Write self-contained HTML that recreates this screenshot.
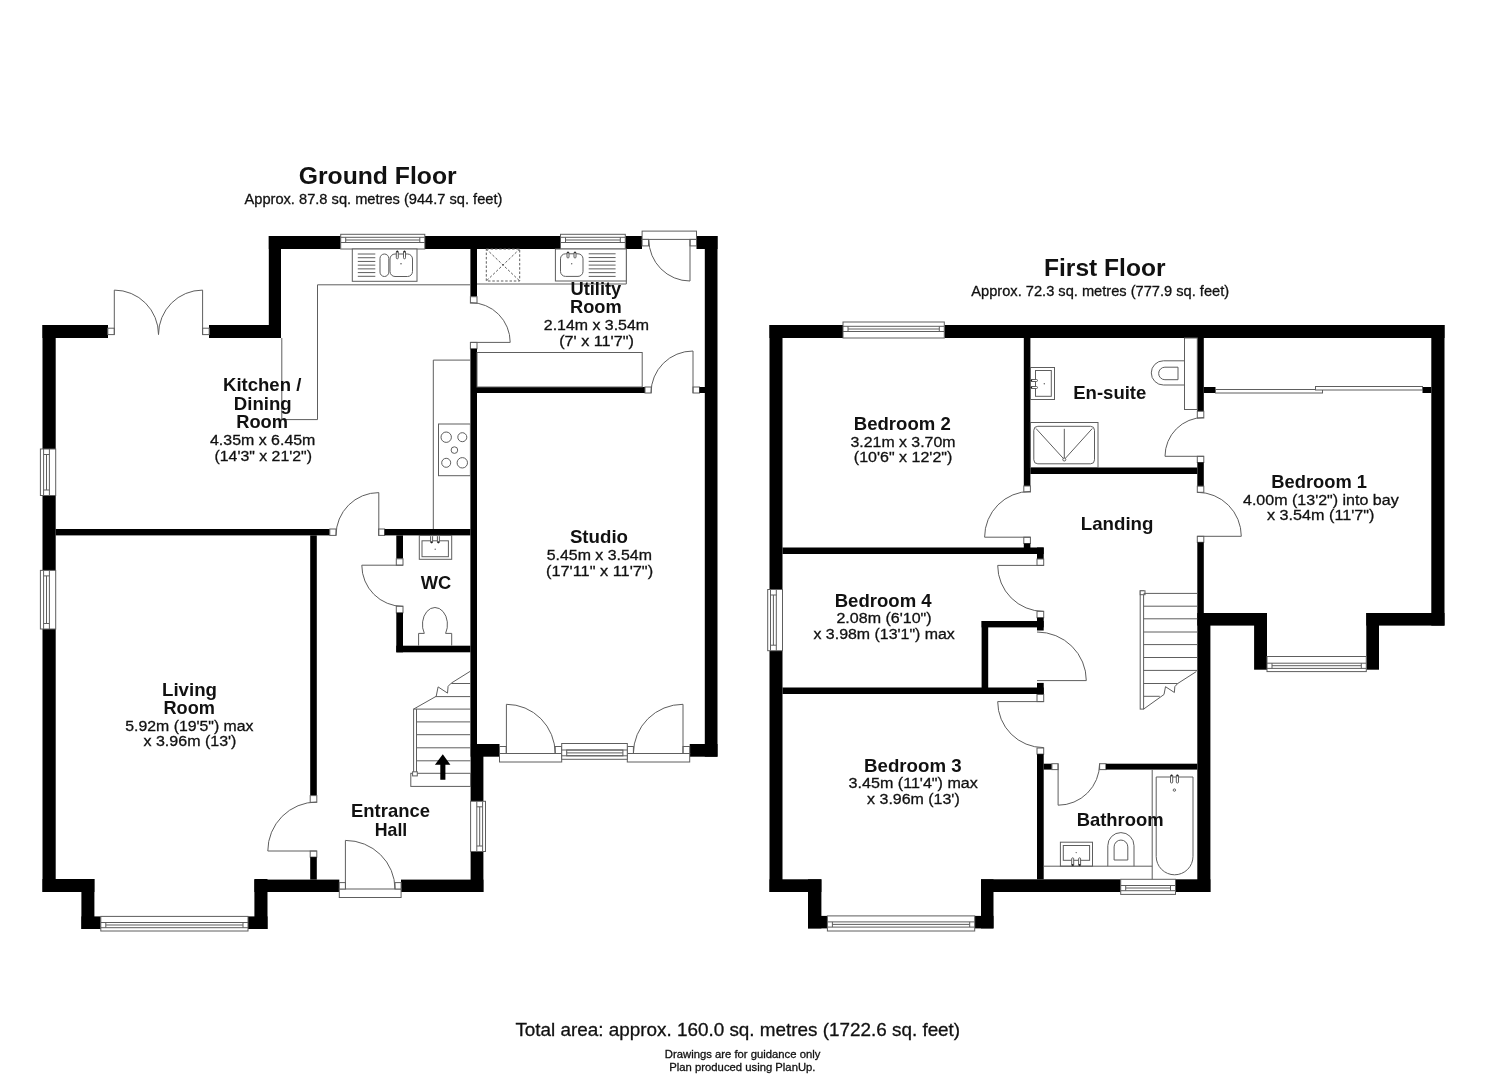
<!DOCTYPE html>
<html><head><meta charset="utf-8"><style>
html,body{margin:0;padding:0;background:#fff;width:1485px;height:1080px;overflow:hidden}
svg{display:block;will-change:transform}
text{font-family:"Liberation Sans",sans-serif;fill:#111}
</style></head><body>
<svg width="1485" height="1080" viewBox="0 0 1485 1080">
<rect width="1485" height="1080" fill="#fff"/>
<rect x="42.5" y="325" width="13.2" height="124" fill="#000"/>
<rect x="42.5" y="495.5" width="13.2" height="74.9" fill="#000"/>
<rect x="42.5" y="629" width="13.2" height="263" fill="#000"/>
<rect x="42.5" y="325" width="65.5" height="13" fill="#000"/>
<rect x="209" y="325" width="72" height="13" fill="#000"/>
<rect x="268.8" y="236" width="12.2" height="102" fill="#000"/>
<rect x="268.8" y="236" width="71.9" height="13" fill="#000"/>
<rect x="424.8" y="236" width="135.7" height="13" fill="#000"/>
<rect x="625.3" y="236" width="16.7" height="13" fill="#000"/>
<rect x="696.5" y="236" width="21" height="13" fill="#000"/>
<rect x="704.8" y="236" width="12.7" height="520.7" fill="#000"/>
<rect x="689.7" y="744" width="27.8" height="12.7" fill="#000"/>
<rect x="470.6" y="744" width="28.9" height="12.7" fill="#000"/>
<rect x="470.6" y="744" width="12.8" height="57.3" fill="#000"/>
<rect x="470.6" y="851.5" width="12.8" height="40.5" fill="#000"/>
<rect x="401" y="879.6" width="82.4" height="12.4" fill="#000"/>
<rect x="254.4" y="879.6" width="84.9" height="12.4" fill="#000"/>
<rect x="254.4" y="879" width="13.1" height="50" fill="#000"/>
<rect x="248" y="916.4" width="19.5" height="12.6" fill="#000"/>
<rect x="81.4" y="916.4" width="19.4" height="12.6" fill="#000"/>
<rect x="81.4" y="879" width="13" height="50" fill="#000"/>
<rect x="42.5" y="879" width="51.9" height="13" fill="#000"/>
<rect x="470.4" y="249" width="6.6" height="47.7" fill="#000"/>
<rect x="470.4" y="296.7" width="6.6" height="6.4" fill="#fff" stroke="#5e5e5e" stroke-width="1.0" />
<rect x="470.4" y="342.4" width="6.6" height="6.4" fill="#fff" stroke="#5e5e5e" stroke-width="1.0" />
<rect x="470.4" y="348.8" width="6.6" height="395.2" fill="#000"/>
<path d="M470.4,342.4 L510.2,342.4 A39.8,39.8 0 0 0 470.4,302.6" fill="none" stroke="#5e5e5e" stroke-width="1.0" />
<rect x="477" y="387" width="168" height="6" fill="#000"/>
<rect x="645" y="387" width="6.2" height="6" fill="#fff" stroke="#5e5e5e" stroke-width="1.0" />
<rect x="693" y="387" width="6.5" height="6" fill="#fff" stroke="#5e5e5e" stroke-width="1.0" />
<rect x="699.5" y="387" width="5.5" height="6" fill="#000"/>
<path d="M693,393 L693,351 A42,42 0 0 0 651,393" fill="none" stroke="#5e5e5e" stroke-width="1.0" />
<rect x="55.7" y="529" width="274.1" height="6.4" fill="#000"/>
<rect x="329.8" y="529" width="6.2" height="6.4" fill="#fff" stroke="#5e5e5e" stroke-width="1.0" />
<rect x="378.6" y="529" width="6" height="6.4" fill="#fff" stroke="#5e5e5e" stroke-width="1.0" />
<rect x="384.6" y="529" width="85.8" height="6.4" fill="#000"/>
<path d="M378.8,535.4 L378.8,492.6 A42.8,42.8 0 0 0 336,535.4" fill="none" stroke="#5e5e5e" stroke-width="1.0" />
<rect x="310.2" y="535.4" width="6.6" height="260.2" fill="#000"/>
<rect x="310.2" y="795.6" width="6.6" height="6.7" fill="#fff" stroke="#5e5e5e" stroke-width="1.0" />
<rect x="310.2" y="851" width="6.6" height="6.1" fill="#fff" stroke="#5e5e5e" stroke-width="1.0" />
<rect x="310.2" y="857.1" width="6.6" height="22.5" fill="#000"/>
<path d="M316.8,851 L267.8,851 A49,49 0 0 1 316.8,802" fill="none" stroke="#5e5e5e" stroke-width="1.0" />
<rect x="396.3" y="535.4" width="6.7" height="23.4" fill="#000"/>
<rect x="396.3" y="558.8" width="6.7" height="6.4" fill="#fff" stroke="#5e5e5e" stroke-width="1.0" />
<rect x="396.3" y="606.2" width="6.7" height="6.6" fill="#fff" stroke="#5e5e5e" stroke-width="1.0" />
<rect x="396.3" y="612.8" width="6.7" height="39.5" fill="#000"/>
<rect x="396.3" y="645.7" width="74.1" height="6.6" fill="#000"/>
<path d="M403,565.2 L361.8,565.2 A41.2,41.2 0 0 0 403,606.4" fill="none" stroke="#5e5e5e" stroke-width="1.0" />
<rect x="107.8" y="328.2" width="6.5" height="6.4" fill="#fff" stroke="#5e5e5e" stroke-width="1.0" />
<rect x="202.6" y="328.2" width="6.6" height="6.4" fill="#fff" stroke="#5e5e5e" stroke-width="1.0" />
<path d="M114.3,334.6 V290.1 A44.2,44.5 0 0 1 158.5,334.6" fill="none" stroke="#5e5e5e" stroke-width="1.0" />
<path d="M202.6,334.6 V290.1 A44.1,44.5 0 0 0 158.5,334.6" fill="none" stroke="#5e5e5e" stroke-width="1.0" />
<rect x="642.1" y="231.1" width="54.4" height="8.3" fill="#fff" stroke="#5e5e5e" stroke-width="1.0" />
<rect x="642.1" y="239.4" width="6.4" height="6.5" fill="#fff" stroke="#5e5e5e" stroke-width="1.0" />
<rect x="690" y="239.4" width="6.5" height="6.5" fill="#fff" stroke="#5e5e5e" stroke-width="1.0" />
<path d="M690,239.4 V281 A41.2,41.6 0 0 1 648.8,239.4" fill="none" stroke="#5e5e5e" stroke-width="1.0" />
<rect x="339.3" y="889" width="61.8" height="8.5" fill="#fff" stroke="#5e5e5e" stroke-width="1.0" />
<rect x="339.3" y="882.6" width="6.2" height="6.4" fill="#fff" stroke="#5e5e5e" stroke-width="1.0" />
<rect x="395" y="882.6" width="6.1" height="6.4" fill="#fff" stroke="#5e5e5e" stroke-width="1.0" />
<path d="M345.4,889 V840.4 A49.6,48.6 0 0 1 395,889" fill="none" stroke="#5e5e5e" stroke-width="1.0" />
<rect x="499.5" y="753.5" width="62.2" height="8.5" fill="#fff" stroke="#5e5e5e" stroke-width="1.0" />
<rect x="499.5" y="746.5" width="6.7" height="7" fill="#fff" stroke="#5e5e5e" stroke-width="1.0" />
<rect x="555.2" y="746.5" width="6.5" height="7" fill="#fff" stroke="#5e5e5e" stroke-width="1.0" />
<path d="M506.4,753.5 V704.3 A48.8,49.2 0 0 1 555.2,753.5" fill="none" stroke="#5e5e5e" stroke-width="1.0" />
<rect x="627.3" y="753.5" width="62.4" height="8.5" fill="#fff" stroke="#5e5e5e" stroke-width="1.0" />
<rect x="627.3" y="746.5" width="6.1" height="7" fill="#fff" stroke="#5e5e5e" stroke-width="1.0" />
<rect x="683" y="746.5" width="6.7" height="7" fill="#fff" stroke="#5e5e5e" stroke-width="1.0" />
<path d="M683,753.5 V704.3 A49.6,49.2 0 0 0 633.4,753.5" fill="none" stroke="#5e5e5e" stroke-width="1.0" />
<rect x="561.7" y="743.5" width="65.6" height="15.8" fill="#fff" stroke="#5e5e5e" stroke-width="1.0" />
<line x1="561.7" y1="750" x2="627.3" y2="750" stroke="#5e5e5e" stroke-width="1.0" />
<line x1="561.7" y1="755.8" x2="627.3" y2="755.8" stroke="#5e5e5e" stroke-width="1.0" />
<rect x="566.7" y="750" width="56.2" height="5.8" fill="none" stroke="#5e5e5e" stroke-width="1.0" />
<line x1="566.7" y1="752.9" x2="622.9" y2="752.9" stroke="#5e5e5e" stroke-width="1.0" />
<rect x="340.7" y="234.3" width="84.1" height="14.7" fill="#fff" stroke="#5e5e5e" stroke-width="1.0" />
<line x1="340.7" y1="237.3" x2="424.8" y2="237.3" stroke="#5e5e5e" stroke-width="1.0" />
<line x1="340.7" y1="242.5" x2="424.8" y2="242.5" stroke="#5e5e5e" stroke-width="1.0" />
<line x1="345.7" y1="240" x2="419.8" y2="240" stroke="#5e5e5e" stroke-width="1.0" />
<line x1="345.7" y1="237.3" x2="345.7" y2="242.5" stroke="#5e5e5e" stroke-width="1.0" />
<line x1="419.8" y1="237.3" x2="419.8" y2="242.5" stroke="#5e5e5e" stroke-width="1.0" />
<rect x="560.5" y="234.3" width="64.8" height="14.7" fill="#fff" stroke="#5e5e5e" stroke-width="1.0" />
<line x1="560.5" y1="237.3" x2="625.3" y2="237.3" stroke="#5e5e5e" stroke-width="1.0" />
<line x1="560.5" y1="242.5" x2="625.3" y2="242.5" stroke="#5e5e5e" stroke-width="1.0" />
<line x1="565.5" y1="240" x2="620.3" y2="240" stroke="#5e5e5e" stroke-width="1.0" />
<line x1="565.5" y1="237.3" x2="565.5" y2="242.5" stroke="#5e5e5e" stroke-width="1.0" />
<line x1="620.3" y1="237.3" x2="620.3" y2="242.5" stroke="#5e5e5e" stroke-width="1.0" />
<rect x="40.4" y="449" width="15.3" height="46.5" fill="#fff" stroke="#5e5e5e" stroke-width="1.0" />
<line x1="43.6" y1="449" x2="43.6" y2="495.5" stroke="#5e5e5e" stroke-width="1.0" />
<line x1="49.4" y1="449" x2="49.4" y2="495.5" stroke="#5e5e5e" stroke-width="1.0" />
<line x1="46.5" y1="454.5" x2="46.5" y2="490" stroke="#5e5e5e" stroke-width="1.0" />
<line x1="43.6" y1="454.5" x2="49.4" y2="454.5" stroke="#5e5e5e" stroke-width="1.0" />
<line x1="43.6" y1="490" x2="49.4" y2="490" stroke="#5e5e5e" stroke-width="1.0" />
<rect x="40.4" y="570.4" width="15.3" height="58.6" fill="#fff" stroke="#5e5e5e" stroke-width="1.0" />
<line x1="43.6" y1="570.4" x2="43.6" y2="629" stroke="#5e5e5e" stroke-width="1.0" />
<line x1="49.4" y1="570.4" x2="49.4" y2="629" stroke="#5e5e5e" stroke-width="1.0" />
<line x1="46.5" y1="575.9" x2="46.5" y2="623.5" stroke="#5e5e5e" stroke-width="1.0" />
<line x1="43.6" y1="575.9" x2="49.4" y2="575.9" stroke="#5e5e5e" stroke-width="1.0" />
<line x1="43.6" y1="623.5" x2="49.4" y2="623.5" stroke="#5e5e5e" stroke-width="1.0" />
<rect x="100.8" y="916.4" width="147.2" height="14.6" fill="#fff" stroke="#5e5e5e" stroke-width="1.0" />
<line x1="100.8" y1="927.7" x2="248" y2="927.7" stroke="#5e5e5e" stroke-width="1.0" />
<line x1="100.8" y1="922.5" x2="248" y2="922.5" stroke="#5e5e5e" stroke-width="1.0" />
<line x1="105.8" y1="925" x2="243" y2="925" stroke="#5e5e5e" stroke-width="1.0" />
<line x1="105.8" y1="927.7" x2="105.8" y2="922.5" stroke="#5e5e5e" stroke-width="1.0" />
<line x1="243" y1="927.7" x2="243" y2="922.5" stroke="#5e5e5e" stroke-width="1.0" />
<rect x="470.6" y="801.3" width="14.9" height="50.2" fill="#fff" stroke="#5e5e5e" stroke-width="1.0" />
<line x1="482.6" y1="801.3" x2="482.6" y2="851.5" stroke="#5e5e5e" stroke-width="1.0" />
<line x1="476.8" y1="801.3" x2="476.8" y2="851.5" stroke="#5e5e5e" stroke-width="1.0" />
<line x1="479.7" y1="806.8" x2="479.7" y2="846" stroke="#5e5e5e" stroke-width="1.0" />
<line x1="482.6" y1="806.8" x2="476.8" y2="806.8" stroke="#5e5e5e" stroke-width="1.0" />
<line x1="482.6" y1="846" x2="476.8" y2="846" stroke="#5e5e5e" stroke-width="1.0" />
<path d="M281.8,338 V419.6 H317.5 V284.8 H470.4" fill="none" stroke="#5e5e5e" stroke-width="1.0" />
<rect x="352.3" y="249" width="64.7" height="32.3" fill="#fff" stroke="#5e5e5e" stroke-width="1.0" />
<line x1="357.8" y1="254" x2="375.3" y2="254" stroke="#5e5e5e" stroke-width="1.0" />
<line x1="357.8" y1="257.72" x2="375.3" y2="257.72" stroke="#5e5e5e" stroke-width="1.0" />
<line x1="357.8" y1="261.43" x2="375.3" y2="261.43" stroke="#5e5e5e" stroke-width="1.0" />
<line x1="357.8" y1="265.15" x2="375.3" y2="265.15" stroke="#5e5e5e" stroke-width="1.0" />
<line x1="357.8" y1="268.87" x2="375.3" y2="268.87" stroke="#5e5e5e" stroke-width="1.0" />
<line x1="357.8" y1="272.58" x2="375.3" y2="272.58" stroke="#5e5e5e" stroke-width="1.0" />
<line x1="357.8" y1="276.3" x2="375.3" y2="276.3" stroke="#5e5e5e" stroke-width="1.0" />
<rect x="380" y="254" width="8.8" height="22.5" rx="4.4" fill="none" stroke="#5e5e5e" stroke-width="1.0"/>
<rect x="390" y="254" width="22.5" height="22.5" rx="5" fill="none" stroke="#5e5e5e" stroke-width="1.0"/>
<rect x="396.3" y="251" width="2" height="7.8" rx="1" fill="#fff" stroke="#5e5e5e" stroke-width="1.0"/>
<rect x="403.5" y="251" width="2" height="7.8" rx="1" fill="#fff" stroke="#5e5e5e" stroke-width="1.0"/>
<circle cx="397.3" cy="251.6" r="0.9" fill="#222" stroke="#5e5e5e" stroke-width="0"/>
<circle cx="404.5" cy="251.6" r="0.9" fill="#222" stroke="#5e5e5e" stroke-width="0"/>
<circle cx="401" cy="263.8" r="0.8" fill="#5e5e5e" stroke="#5e5e5e" stroke-width="0"/>
<path d="M470.4,360.1 H433.3 V529" fill="none" stroke="#5e5e5e" stroke-width="1.0" />
<rect x="438.5" y="424" width="31.9" height="51.7" fill="none" stroke="#5e5e5e" stroke-width="1.0" />
<circle cx="446.2" cy="437.2" r="5.2" fill="none" stroke="#5e5e5e" stroke-width="1.0"/>
<circle cx="462.3" cy="437.2" r="4.5" fill="none" stroke="#5e5e5e" stroke-width="1.0"/>
<circle cx="454.4" cy="450.1" r="3.3" fill="none" stroke="#5e5e5e" stroke-width="1.0"/>
<circle cx="446.2" cy="462.8" r="4.5" fill="none" stroke="#5e5e5e" stroke-width="1.0"/>
<circle cx="462.3" cy="462.8" r="5.2" fill="none" stroke="#5e5e5e" stroke-width="1.0"/>
<path d="M477,284 H626.3 V249" fill="none" stroke="#5e5e5e" stroke-width="1.0" />
<rect x="486.3" y="249" width="33.4" height="32" fill="none" stroke="#5e5e5e" stroke-width="1.0" stroke-dasharray="2.5,1.8"/>
<path d="M486.3,249 L519.7,281 M519.7,249 L486.3,281" fill="none" stroke="#5e5e5e" stroke-width="1.0" stroke-dasharray="2.5,1.8"/>
<rect x="555.4" y="249" width="70.9" height="32" fill="#fff" stroke="#5e5e5e" stroke-width="1.0" />
<rect x="560.5" y="253.8" width="22.5" height="22.6" rx="5" fill="none" stroke="#5e5e5e" stroke-width="1.0"/>
<rect x="567" y="252" width="2" height="6" rx="1" fill="#fff" stroke="#5e5e5e" stroke-width="1.0"/>
<rect x="574" y="252" width="2" height="6" rx="1" fill="#fff" stroke="#5e5e5e" stroke-width="1.0"/>
<circle cx="568" cy="252.6" r="0.9" fill="#222" stroke="#5e5e5e" stroke-width="0"/>
<circle cx="575" cy="252.6" r="0.9" fill="#222" stroke="#5e5e5e" stroke-width="0"/>
<circle cx="571.7" cy="263.7" r="0.7" fill="#5e5e5e" stroke="#5e5e5e" stroke-width="0"/>
<line x1="588.7" y1="253.8" x2="615.6" y2="253.8" stroke="#5e5e5e" stroke-width="1.0" />
<line x1="588.7" y1="257.57" x2="615.6" y2="257.57" stroke="#5e5e5e" stroke-width="1.0" />
<line x1="588.7" y1="261.33" x2="615.6" y2="261.33" stroke="#5e5e5e" stroke-width="1.0" />
<line x1="588.7" y1="265.1" x2="615.6" y2="265.1" stroke="#5e5e5e" stroke-width="1.0" />
<line x1="588.7" y1="268.87" x2="615.6" y2="268.87" stroke="#5e5e5e" stroke-width="1.0" />
<line x1="588.7" y1="272.63" x2="615.6" y2="272.63" stroke="#5e5e5e" stroke-width="1.0" />
<line x1="588.7" y1="276.4" x2="615.6" y2="276.4" stroke="#5e5e5e" stroke-width="1.0" />
<rect x="477" y="352.5" width="165.2" height="34.5" fill="none" stroke="#5e5e5e" stroke-width="1.0" />
<rect x="419.3" y="535.4" width="32.4" height="23.9" fill="none" stroke="#5e5e5e" stroke-width="1.0" />
<rect x="422" y="540.8" width="26.4" height="15.9" fill="none" stroke="#5e5e5e" stroke-width="1.0" />
<rect x="430.6" y="535.5" width="2" height="7.5" rx="1" fill="#fff" stroke="#5e5e5e" stroke-width="1.0"/>
<rect x="437.4" y="535.5" width="2" height="7.5" rx="1" fill="#fff" stroke="#5e5e5e" stroke-width="1.0"/>
<circle cx="431.6" cy="542.2" r="0.9" fill="#222" stroke="#5e5e5e" stroke-width="0"/>
<circle cx="438.4" cy="542.2" r="0.9" fill="#222" stroke="#5e5e5e" stroke-width="0"/>
<circle cx="435.2" cy="549.3" r="0.7" fill="#5e5e5e" stroke="#5e5e5e" stroke-width="0"/>
<path d="M418.6,645.7 V633.4 H424.3 A12.5,17 0 1 1 445.6,633.4 H451.7 V645.7" fill="none" stroke="#5e5e5e" stroke-width="1.0" />
<rect x="413.6" y="709.1" width="2.9" height="64.2" fill="none" stroke="#5e5e5e" stroke-width="1.0" />
<rect x="410.8" y="773.3" width="59.8" height="13.1" fill="none" stroke="#5e5e5e" stroke-width="1.0" />
<rect x="412.6" y="771.8" width="4.7" height="4.1" fill="#fff" stroke="#5e5e5e" stroke-width="1.0" />
<line x1="416.5" y1="709.1" x2="470.6" y2="709.1" stroke="#5e5e5e" stroke-width="1.0" />
<line x1="416.5" y1="721.9" x2="470.6" y2="721.9" stroke="#5e5e5e" stroke-width="1.0" />
<line x1="416.5" y1="734.7" x2="470.6" y2="734.7" stroke="#5e5e5e" stroke-width="1.0" />
<line x1="416.5" y1="747.8" x2="470.6" y2="747.8" stroke="#5e5e5e" stroke-width="1.0" />
<line x1="416.5" y1="760.8" x2="470.6" y2="760.8" stroke="#5e5e5e" stroke-width="1.0" />
<line x1="435.6" y1="696.6" x2="470.6" y2="696.6" stroke="#5e5e5e" stroke-width="1.0" />
<line x1="451.3" y1="683.5" x2="470.6" y2="683.5" stroke="#5e5e5e" stroke-width="1.0" />
<path d="M413.6,709.1 L436.2,696.3 L438.1,686.9 L447.5,693.1 L448.1,686.3 L451.3,683.1 L470.4,671.2" fill="none" stroke="#5e5e5e" stroke-width="1.0" />
<path d="M442.8,754.3 L434.9,764.8 L440.3,764.8 L440.3,779.8 L445.4,779.8 L445.4,764.8 L450.4,764.8 Z" fill="#000" stroke="#5e5e5e" stroke-width="0" />
<rect x="769.5" y="325" width="13" height="264.5" fill="#000"/>
<rect x="769.5" y="650.7" width="13" height="241.3" fill="#000"/>
<rect x="769.5" y="325" width="73.5" height="13" fill="#000"/>
<rect x="944.3" y="325" width="500.2" height="13" fill="#000"/>
<rect x="1431.3" y="325" width="13.2" height="300.6" fill="#000"/>
<rect x="1366.3" y="613" width="78.2" height="12.6" fill="#000"/>
<rect x="1366.3" y="613" width="12.7" height="56.7" fill="#000"/>
<rect x="1197.3" y="613" width="69.7" height="12.6" fill="#000"/>
<rect x="1254.1" y="613" width="12.9" height="56.7" fill="#000"/>
<rect x="1197.3" y="613" width="13.1" height="279" fill="#000"/>
<rect x="981" y="879.3" width="139.7" height="12.7" fill="#000"/>
<rect x="1175.5" y="879.3" width="34.9" height="12.7" fill="#000"/>
<rect x="981" y="879.3" width="12.5" height="49.1" fill="#000"/>
<rect x="974.7" y="915.9" width="18.8" height="12.5" fill="#000"/>
<rect x="808" y="915.9" width="19.4" height="12.5" fill="#000"/>
<rect x="808" y="879.3" width="13.4" height="49.1" fill="#000"/>
<rect x="769.5" y="879.3" width="51.9" height="12.7" fill="#000"/>
<rect x="843" y="322" width="101.3" height="16" fill="#fff" stroke="#5e5e5e" stroke-width="1.0" />
<line x1="843" y1="326.3" x2="944.3" y2="326.3" stroke="#5e5e5e" stroke-width="1.0" />
<line x1="843" y1="331.5" x2="944.3" y2="331.5" stroke="#5e5e5e" stroke-width="1.0" />
<line x1="848" y1="329" x2="939.3" y2="329" stroke="#5e5e5e" stroke-width="1.0" />
<line x1="848" y1="326.3" x2="848" y2="331.5" stroke="#5e5e5e" stroke-width="1.0" />
<line x1="939.3" y1="326.3" x2="939.3" y2="331.5" stroke="#5e5e5e" stroke-width="1.0" />
<rect x="767.7" y="589.5" width="14.8" height="61.2" fill="#fff" stroke="#5e5e5e" stroke-width="1.0" />
<line x1="770.5" y1="589.5" x2="770.5" y2="650.7" stroke="#5e5e5e" stroke-width="1.0" />
<line x1="776.3" y1="589.5" x2="776.3" y2="650.7" stroke="#5e5e5e" stroke-width="1.0" />
<line x1="773.4" y1="595" x2="773.4" y2="645.2" stroke="#5e5e5e" stroke-width="1.0" />
<line x1="770.5" y1="595" x2="776.3" y2="595" stroke="#5e5e5e" stroke-width="1.0" />
<line x1="770.5" y1="645.2" x2="776.3" y2="645.2" stroke="#5e5e5e" stroke-width="1.0" />
<rect x="827.4" y="915.9" width="147.3" height="15.1" fill="#fff" stroke="#5e5e5e" stroke-width="1.0" />
<line x1="827.4" y1="927.1" x2="974.7" y2="927.1" stroke="#5e5e5e" stroke-width="1.0" />
<line x1="827.4" y1="921.9" x2="974.7" y2="921.9" stroke="#5e5e5e" stroke-width="1.0" />
<line x1="832.4" y1="924.4" x2="969.7" y2="924.4" stroke="#5e5e5e" stroke-width="1.0" />
<line x1="832.4" y1="927.1" x2="832.4" y2="921.9" stroke="#5e5e5e" stroke-width="1.0" />
<line x1="969.7" y1="927.1" x2="969.7" y2="921.9" stroke="#5e5e5e" stroke-width="1.0" />
<rect x="1267" y="656.5" width="99.3" height="15.1" fill="#fff" stroke="#5e5e5e" stroke-width="1.0" />
<line x1="1267" y1="668.4" x2="1366.3" y2="668.4" stroke="#5e5e5e" stroke-width="1.0" />
<line x1="1267" y1="663.2" x2="1366.3" y2="663.2" stroke="#5e5e5e" stroke-width="1.0" />
<line x1="1272" y1="665.7" x2="1361.3" y2="665.7" stroke="#5e5e5e" stroke-width="1.0" />
<line x1="1272" y1="668.4" x2="1272" y2="663.2" stroke="#5e5e5e" stroke-width="1.0" />
<line x1="1361.3" y1="668.4" x2="1361.3" y2="663.2" stroke="#5e5e5e" stroke-width="1.0" />
<rect x="1120.7" y="879.3" width="54.8" height="15.1" fill="#fff" stroke="#5e5e5e" stroke-width="1.0" />
<line x1="1120.7" y1="890.7" x2="1175.5" y2="890.7" stroke="#5e5e5e" stroke-width="1.0" />
<line x1="1120.7" y1="885.5" x2="1175.5" y2="885.5" stroke="#5e5e5e" stroke-width="1.0" />
<line x1="1125.7" y1="888" x2="1170.5" y2="888" stroke="#5e5e5e" stroke-width="1.0" />
<line x1="1125.7" y1="890.7" x2="1125.7" y2="885.5" stroke="#5e5e5e" stroke-width="1.0" />
<line x1="1170.5" y1="890.7" x2="1170.5" y2="885.5" stroke="#5e5e5e" stroke-width="1.0" />
<rect x="1023.8" y="338" width="6.6" height="148" fill="#000"/>
<rect x="1023.8" y="486" width="6.6" height="6" fill="#fff" stroke="#5e5e5e" stroke-width="1.0" />
<rect x="1023.8" y="537.2" width="6.6" height="6.3" fill="#fff" stroke="#5e5e5e" stroke-width="1.0" />
<rect x="1023.8" y="543.5" width="6.6" height="10.2" fill="#000"/>
<path d="M1030.4,537.2 L984.6,537.2 A45.8,45.8 0 0 1 1030.4,491.4" fill="none" stroke="#5e5e5e" stroke-width="1.0" />
<rect x="1030.4" y="467.5" width="166.9" height="6.5" fill="#000"/>
<rect x="1197.3" y="338" width="6.5" height="73.3" fill="#000"/>
<rect x="1197.3" y="411.3" width="6.5" height="6.7" fill="#fff" stroke="#5e5e5e" stroke-width="1.0" />
<rect x="1197.3" y="456.3" width="6.5" height="6.2" fill="#fff" stroke="#5e5e5e" stroke-width="1.0" />
<rect x="1197.3" y="462.5" width="6.5" height="23.7" fill="#000"/>
<path d="M1203.8,456.3 L1165,456.3 A38.8,38.8 0 0 1 1203.8,417.5" fill="none" stroke="#5e5e5e" stroke-width="1.0" />
<rect x="1197.3" y="486.2" width="6.5" height="6.1" fill="#fff" stroke="#5e5e5e" stroke-width="1.0" />
<rect x="1197.3" y="536.3" width="6.5" height="6" fill="#fff" stroke="#5e5e5e" stroke-width="1.0" />
<rect x="1197.3" y="542.3" width="6.5" height="70.7" fill="#000"/>
<path d="M1197.3,536.3 L1241.3,536.3 A44,44 0 0 0 1197.3,492.3" fill="none" stroke="#5e5e5e" stroke-width="1.0" />
<rect x="782.5" y="547.5" width="261.2" height="6.5" fill="#000"/>
<rect x="1037" y="547.5" width="6.7" height="11.5" fill="#000"/>
<rect x="1037" y="559" width="6.7" height="6.4" fill="#fff" stroke="#5e5e5e" stroke-width="1.0" />
<rect x="1037" y="611.3" width="6.7" height="6.4" fill="#fff" stroke="#5e5e5e" stroke-width="1.0" />
<rect x="1037" y="617.7" width="6.7" height="12.8" fill="#000"/>
<path d="M1043.7,565.4 L997.7,565.4 A46,46 0 0 0 1043.7,611.4" fill="none" stroke="#5e5e5e" stroke-width="1.0" />
<rect x="981.6" y="621" width="62.1" height="6.4" fill="#000"/>
<rect x="981.6" y="621" width="6.6" height="73" fill="#000"/>
<path d="M1037,680.6 H1086.3 A49.3,48.6 0 0 0 1037,632" fill="none" stroke="#5e5e5e" stroke-width="1.0" />
<rect x="782.5" y="687.5" width="261.2" height="6.5" fill="#000"/>
<rect x="1037" y="682.9" width="6.7" height="11.6" fill="#000"/>
<rect x="1037" y="694.5" width="6.7" height="7.1" fill="#fff" stroke="#5e5e5e" stroke-width="1.0" />
<rect x="1037" y="748" width="6.7" height="6.1" fill="#fff" stroke="#5e5e5e" stroke-width="1.0" />
<rect x="1037" y="754.1" width="6.7" height="125.2" fill="#000"/>
<path d="M1043.7,701.6 L997.7,701.6 A46,46 0 0 0 1043.7,747.6" fill="none" stroke="#5e5e5e" stroke-width="1.0" />
<rect x="1043.7" y="763.7" width="8.2" height="5.9" fill="#000"/>
<rect x="1051.9" y="763.7" width="6.2" height="5.9" fill="#fff" stroke="#5e5e5e" stroke-width="1.0" />
<rect x="1099.6" y="763.7" width="6.3" height="5.9" fill="#fff" stroke="#5e5e5e" stroke-width="1.0" />
<rect x="1105.9" y="763.7" width="91.4" height="5.9" fill="#000"/>
<path d="M1058.1,763.7 L1058.1,805.2 A41.5,41.5 0 0 0 1099.6,763.7" fill="none" stroke="#5e5e5e" stroke-width="1.0" />
<rect x="1203.8" y="387" width="11.7" height="6" fill="#000"/>
<rect x="1422.5" y="387" width="8.8" height="6" fill="#000"/>
<rect x="1215.5" y="389.5" width="107" height="3.5" fill="#fff" stroke="#5e5e5e" stroke-width="1.0" />
<rect x="1315.5" y="386.5" width="107" height="3.5" fill="#fff" stroke="#5e5e5e" stroke-width="1.0" />
<rect x="1030.4" y="367.5" width="24.1" height="32" fill="none" stroke="#5e5e5e" stroke-width="1.0" />
<rect x="1035.5" y="370.5" width="15.8" height="25.8" fill="none" stroke="#5e5e5e" stroke-width="1.0" />
<rect x="1030.5" y="379.5" width="7" height="2" rx="1" fill="#fff" stroke="#5e5e5e" stroke-width="1.0"/>
<rect x="1030.5" y="386.5" width="7" height="2" rx="1" fill="#fff" stroke="#5e5e5e" stroke-width="1.0"/>
<circle cx="1031.3" cy="380.5" r="0.9" fill="#222" stroke="#5e5e5e" stroke-width="0"/>
<circle cx="1031.3" cy="387.5" r="0.9" fill="#222" stroke="#5e5e5e" stroke-width="0"/>
<circle cx="1044.3" cy="383.8" r="0.7" fill="#5e5e5e" stroke="#5e5e5e" stroke-width="0"/>
<rect x="1030.4" y="422.5" width="67.6" height="45" fill="none" stroke="#5e5e5e" stroke-width="1.0" />
<rect x="1033.8" y="426.3" width="60.7" height="37.5" rx="4" fill="none" stroke="#5e5e5e" stroke-width="1.0"/>
<path d="M1036,428.5 L1064.3,459.5 M1092.3,428.5 L1064.3,459.5 M1064.3,428.8 V459.5" fill="none" stroke="#5e5e5e" stroke-width="1.0" />
<circle cx="1064.3" cy="459.5" r="1.5" fill="#fff" stroke="#5e5e5e" stroke-width="1.0"/>
<rect x="1184.5" y="338" width="12.8" height="71.5" fill="none" stroke="#5e5e5e" stroke-width="1.0" />
<path d="M1184.5,360.8 H1163.4 A12.1,12.1 0 0 0 1163.4,385 H1184.5" fill="none" stroke="#5e5e5e" stroke-width="1.0" />
<path d="M1178,367.2 H1164.9 A6.25,6.25 0 0 0 1164.9,379.7 H1178 Z" fill="none" stroke="#5e5e5e" stroke-width="1.0" />
<path d="M1043.7,866.2 H1152.2 M1152.2,769.6 V879.3" fill="none" stroke="#5e5e5e" stroke-width="1.0" />
<path d="M1156.2,777 H1193 V856.4 A18.4,18.4 0 0 1 1156.2,856.4 Z" fill="none" stroke="#5e5e5e" stroke-width="1.0" />
<rect x="1170.5" y="774.8" width="2.2" height="8.2" rx="1" fill="#fff" stroke="#5e5e5e" stroke-width="1.0"/>
<rect x="1176.3" y="774.8" width="2.2" height="8.2" rx="1" fill="#fff" stroke="#5e5e5e" stroke-width="1.0"/>
<circle cx="1171.6" cy="775.6" r="0.9" fill="#222" stroke="#5e5e5e" stroke-width="0"/>
<circle cx="1177.4" cy="775.6" r="0.9" fill="#222" stroke="#5e5e5e" stroke-width="0"/>
<circle cx="1174.4" cy="790.1" r="1.2" fill="none" stroke="#5e5e5e" stroke-width="1.0"/>
<rect x="1060.4" y="842.2" width="32.1" height="24" fill="none" stroke="#5e5e5e" stroke-width="1.0" />
<rect x="1063.3" y="845.5" width="26.3" height="14.8" fill="none" stroke="#5e5e5e" stroke-width="1.0" />
<rect x="1071.7" y="857.8" width="2" height="8.2" rx="1" fill="#fff" stroke="#5e5e5e" stroke-width="1.0"/>
<rect x="1078.6" y="857.8" width="2" height="8.2" rx="1" fill="#fff" stroke="#5e5e5e" stroke-width="1.0"/>
<circle cx="1072.7" cy="865" r="0.9" fill="#222" stroke="#5e5e5e" stroke-width="0"/>
<circle cx="1079.6" cy="865" r="0.9" fill="#222" stroke="#5e5e5e" stroke-width="0"/>
<circle cx="1076.2" cy="852.6" r="0.7" fill="#5e5e5e" stroke="#5e5e5e" stroke-width="0"/>
<path d="M1107.8,866.2 V845.7 A13.1,13.1 0 0 1 1134,845.7 V866.2" fill="none" stroke="#5e5e5e" stroke-width="1.0" />
<path d="M1114.1,860 V846.9 A6.85,6.85 0 0 1 1127.8,846.9 V860 Z" fill="none" stroke="#5e5e5e" stroke-width="1.0" />
<rect x="1140.2" y="590.8" width="3.4" height="118.3" fill="none" stroke="#5e5e5e" stroke-width="1.0" />
<rect x="1140.2" y="590.8" width="4.8" height="3.9" fill="#fff" stroke="#5e5e5e" stroke-width="1.0" />
<line x1="1143.6" y1="593.4" x2="1197.3" y2="593.4" stroke="#5e5e5e" stroke-width="1.0" />
<line x1="1143.6" y1="606.2" x2="1197.3" y2="606.2" stroke="#5e5e5e" stroke-width="1.0" />
<line x1="1143.6" y1="618.8" x2="1197.3" y2="618.8" stroke="#5e5e5e" stroke-width="1.0" />
<line x1="1143.6" y1="632" x2="1197.3" y2="632" stroke="#5e5e5e" stroke-width="1.0" />
<line x1="1143.6" y1="644.6" x2="1197.3" y2="644.6" stroke="#5e5e5e" stroke-width="1.0" />
<line x1="1143.6" y1="657.5" x2="1197.3" y2="657.5" stroke="#5e5e5e" stroke-width="1.0" />
<line x1="1143.6" y1="670.4" x2="1197.3" y2="670.4" stroke="#5e5e5e" stroke-width="1.0" />
<line x1="1143.6" y1="683.5" x2="1177.7" y2="683.5" stroke="#5e5e5e" stroke-width="1.0" />
<line x1="1143.6" y1="696.3" x2="1159.8" y2="696.3" stroke="#5e5e5e" stroke-width="1.0" />
<path d="M1143.6,709.1 L1164,694.5 L1165.5,686.7 L1174.4,692.5 L1174.8,686.7 L1177.7,683.5 L1196.3,671.6" fill="none" stroke="#5e5e5e" stroke-width="1.0" />
<text transform="translate(298.7,183.9) scale(1.0054,1)" font-size="24.6" font-weight="700">Ground Floor</text>
<text transform="translate(244.5,203.5) scale(1.0037,1)" font-size="14.6" font-weight="400" stroke="#111" stroke-width="0.3">Approx. 87.8 sq. metres (944.7 sq. feet)</text>
<text transform="translate(1044,276) scale(0.9990,1)" font-size="24.6" font-weight="700">First Floor</text>
<text transform="translate(971.3,296) scale(1.0033,1)" font-size="14.6" font-weight="400" stroke="#111" stroke-width="0.3">Approx. 72.3 sq. metres (777.9 sq. feet)</text>
<text transform="translate(223,390.8) scale(1.0077,1)" font-size="18.4" font-weight="700">Kitchen /</text>
<text transform="translate(233.8,409.8) scale(1.0118,1)" font-size="18.4" font-weight="700">Dining</text>
<text transform="translate(236.3,428) scale(0.9918,1)" font-size="18.4" font-weight="700">Room</text>
<text transform="translate(210,444.8) scale(1.0494,1)" font-size="15.2" font-weight="400" stroke="#111" stroke-width="0.3">4.35m x 6.45m</text>
<text transform="translate(214.5,460.5) scale(1.0430,1)" font-size="15.2" font-weight="400" stroke="#111" stroke-width="0.3">(14'3&quot; x 21'2&quot;)</text>
<text transform="translate(570.4,295.2) scale(0.9958,1)" font-size="18.4" font-weight="700">Utility</text>
<text transform="translate(570,313.3) scale(0.9918,1)" font-size="18.4" font-weight="700">Room</text>
<text transform="translate(543.8,330.2) scale(1.0474,1)" font-size="15.2" font-weight="400" stroke="#111" stroke-width="0.3">2.14m x 3.54m</text>
<text transform="translate(559.2,346) scale(1.0663,1)" font-size="15.2" font-weight="400" stroke="#111" stroke-width="0.3">(7' x 11'7&quot;)</text>
<text transform="translate(569.9,543.4) scale(1.0153,1)" font-size="18.4" font-weight="700">Studio</text>
<text transform="translate(546.7,560.1) scale(1.0474,1)" font-size="15.2" font-weight="400" stroke="#111" stroke-width="0.3">5.45m x 3.54m</text>
<text transform="translate(546,575.6) scale(1.0754,1)" font-size="15.2" font-weight="400" stroke="#111" stroke-width="0.3">(17'11&quot; x 11'7&quot;)</text>
<text transform="translate(420.7,589.4) scale(0.9950,1)" font-size="18.4" font-weight="700">WC</text>
<text transform="translate(162,696.4) scale(1.0153,1)" font-size="18.4" font-weight="700">Living</text>
<text transform="translate(163.5,713.6) scale(0.9880,1)" font-size="18.4" font-weight="700">Room</text>
<text transform="translate(125.3,730.8) scale(1.0414,1)" font-size="15.2" font-weight="400" stroke="#111" stroke-width="0.3">5.92m (19'5&quot;) max</text>
<text transform="translate(143.5,746.1) scale(1.0542,1)" font-size="15.2" font-weight="400" stroke="#111" stroke-width="0.3">x 3.96m (13')</text>
<text transform="translate(351,816.7) scale(1.0047,1)" font-size="18.4" font-weight="700">Entrance</text>
<text transform="translate(374.8,836) scale(0.9631,1)" font-size="18.4" font-weight="700">Hall</text>
<text transform="translate(853.8,430) scale(1.0093,1)" font-size="18.4" font-weight="700">Bedroom 2</text>
<text transform="translate(850.5,446.8) scale(1.0444,1)" font-size="15.2" font-weight="400" stroke="#111" stroke-width="0.3">3.21m x 3.70m</text>
<text transform="translate(853.8,461.8) scale(1.0558,1)" font-size="15.2" font-weight="400" stroke="#111" stroke-width="0.3">(10'6&quot; x 12'2&quot;)</text>
<text transform="translate(1073.2,398.5) scale(1.0084,1)" font-size="18.4" font-weight="700">En-suite</text>
<text transform="translate(1271.3,488) scale(0.9958,1)" font-size="18.4" font-weight="700">Bedroom 1</text>
<text transform="translate(1243,504.8) scale(1.0547,1)" font-size="15.2" font-weight="400" stroke="#111" stroke-width="0.3">4.00m (13'2&quot;) into bay</text>
<text transform="translate(1267,520) scale(1.0650,1)" font-size="15.2" font-weight="400" stroke="#111" stroke-width="0.3">x 3.54m (11'7&quot;)</text>
<text transform="translate(1080.8,529.5) scale(1.0162,1)" font-size="18.4" font-weight="700">Landing</text>
<text transform="translate(834.7,606.7) scale(1.0093,1)" font-size="18.4" font-weight="700">Bedroom 4</text>
<text transform="translate(836.4,622.9) scale(1.0559,1)" font-size="15.2" font-weight="400" stroke="#111" stroke-width="0.3">2.08m (6'10&quot;)</text>
<text transform="translate(813.5,638.5) scale(1.0481,1)" font-size="15.2" font-weight="400" stroke="#111" stroke-width="0.3">x 3.98m (13'1&quot;) max</text>
<text transform="translate(864,771.5) scale(1.0166,1)" font-size="18.4" font-weight="700">Bedroom 3</text>
<text transform="translate(848.6,788.3) scale(1.0593,1)" font-size="15.2" font-weight="400" stroke="#111" stroke-width="0.3">3.45m (11'4&quot;) max</text>
<text transform="translate(867.1,804) scale(1.0508,1)" font-size="15.2" font-weight="400" stroke="#111" stroke-width="0.3">x 3.96m (13')</text>
<text transform="translate(1076.7,825.6) scale(1.0002,1)" font-size="18.4" font-weight="700">Bathroom</text>
<text transform="translate(515.4,1036.2) scale(1.0322,1)" font-size="18.3" font-weight="400" stroke="#111" stroke-width="0.3">Total area: approx. 160.0 sq. metres (1722.6 sq. feet)</text>
<text transform="translate(664.8,1058) scale(1.0176,1)" font-size="11.1" font-weight="400" stroke="#111" stroke-width="0.3">Drawings are for guidance only</text>
<text transform="translate(669.3,1071.1) scale(1.0175,1)" font-size="11.1" font-weight="400" stroke="#111" stroke-width="0.3">Plan produced using PlanUp.</text>
</svg>
</body></html>
